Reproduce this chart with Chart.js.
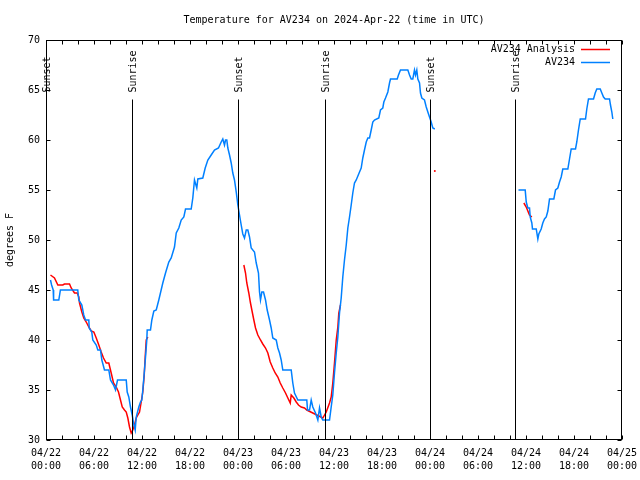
<!DOCTYPE html>
<html>
<head>
<meta charset="utf-8">
<script src="https://cdn.jsdelivr.net/npm/chart.js@4.4.1/dist/chart.umd.min.js"></script>
<style>html,body{margin:0;padding:0;background:#fff;}canvas{display:block;}</style>
</head>
<body>
<canvas id="c" width="640" height="480"></canvas>
<script>
// ---- data (x = hours since 2024-04-22 00:00 UTC) ----
const titleText = "Temperature for AV234 on 2024-Apr-22 (time in UTC)";
const yAxisTitle = "degrees F";
const xTickLabels = [["04/22","00:00"],["04/22","06:00"],["04/22","12:00"],["04/22","18:00"],
  ["04/23","00:00"],["04/23","06:00"],["04/23","12:00"],["04/23","18:00"],
  ["04/24","00:00"],["04/24","06:00"],["04/24","12:00"],["04/24","18:00"],["04/25","00:00"]];
const seriesNames = ["AV234 Analysis", "AV234"];
const sunEventHours = [0.0, 10.8, 24.0, 34.85, 48.0, 58.65];
const sunEventLabels = ["Sunset","Sunrise","Sunset","Sunrise","Sunset","Sunrise"];

const obsHours = [0.56,0.7,0.9,0.95,1.6,1.8,3.97,4.1,4.48,4.72,4.94,5.35,5.4,5.72,5.85,6.28,6.48,6.81,6.98,7.31,7.85,8.06,8.44,8.69,8.94,10.03,10.15,10.35,10.56,10.78,10.94,11.15,11.28,11.6,11.81,11.98,12.1,12.23,12.44,12.6,12.65,13.06,13.23,13.48,13.78,14.1,
  14.6,14.94,15.35,15.65,16.06,16.28,16.6,16.9,17.23,17.44,18.15,18.35,18.56,18.85,18.98,19.6,19.9,20.23,20.65,21.06,21.56,21.9,22.1,22.31,22.44,22.6,22.73,22.94,23.15,23.35,23.56,23.78,23.98,24.19,24.4,24.6,24.81,25.03,25.23,25.44,25.65,26.06,26.28,26.56,26.69,26.81,26.98,27.19,27.44,27.65,27.94,28.15,28.35,28.78,28.98,29.19,29.4,29.6,30.65,30.85,31.06,31.48,32.6,32.69,32.94,33.15,33.35,33.69,33.98,34.19,34.4,34.6,35.44,35.65,35.85,36.06,36.28,36.48,36.69,36.9,37.1,37.31,37.53,37.73,37.94,38.15,38.35,38.56,38.78,39.19,39.4,39.6,39.81,40.03,40.23,40.44,40.65,40.85,41.06,41.6,41.81,42.1,42.23,42.44,42.73,42.94,43.06,43.9,44.06,44.31,45.23,45.44,45.65,45.85,46.06,46.19,46.35,46.48,46.69,46.81,46.98,47.31,47.53,47.73,47.94,48.15,48.35,48.6,
  53.0,
  59.06,59.9,60.03,60.23,60.44,60.53,60.73,60.81,61.28,61.48,61.6,61.9,62.1,62.31,62.53,62.73,62.94,63.48,63.69,63.98,64.19,64.4,64.6,65.23,65.44,65.65,66.19,66.35,66.56,66.78,67.44,67.6,67.81,68.44,68.65,68.85,69.28,69.48,69.69,69.9,70.44,70.56,70.73,70.85];
const obsTemps = [46,45.5,45,44,44,45,45,44,43.5,42.5,42,42,41.2,40.8,40,39.5,39,39,38,37,37,36,35.5,35,36,36,34.8,34.3,33.3,32.5,31.7,31,32.3,33.3,33.8,34,35,36.2,38.3,40,41,41,42,42.9,43,44,
  45.7,46.7,47.8,48.2,49.3,50.7,51.2,52,52.3,53.1,53.1,54.2,56,55.2,56.1,56.2,57.2,58,58.5,59,59.2,59.8,60.1,59.5,60,60,59.2,58.5,57.7,56.7,56,54.8,53.5,52.5,51.5,50.6,50.2,51,51,50.3,49.2,48.8,47.7,46.7,44.8,44,44.8,44.8,44,43,42,41.2,40.2,40,39.2,38.7,38,37,37,35.7,34.7,34,34,33,33,34,33.3,32.7,32,33.2,32.3,32,32,33.3,34.5,36.7,38.7,40.3,42.7,44.2,46.3,48,49.5,51.2,52.3,53.5,54.7,55.7,56,56.8,57.2,58.2,59,59.8,60.2,60.2,61,61.8,62,62.2,63,63.2,63.8,64.2,64.8,65.7,66.1,66.1,66.5,67,67,66.5,66.1,66.1,67,66.5,67,66.1,65.7,64.7,64.2,64,63.3,62.8,62.3,61.8,61.2,61.1,
  null,
  55,55,53.8,53.2,53.2,52.3,51.7,51.1,51.1,50.1,50.6,51.1,51.7,52.1,52.3,52.9,54.1,54.1,55,55.2,55.8,56.3,57.1,57.1,58.1,59.1,59.1,59.8,61,62.1,62.1,63.1,64.1,64.1,64.7,65.1,65.1,64.7,64.3,64.1,64.1,63.5,62.8,62.1];

const anaHours = [0.56,1.06,1.48,2.1,2.31,2.94,3.15,3.56,3.9,4.1,4.19,4.48,4.72,5.03,5.35,5.65,5.98,6.28,6.6,6.9,7.19,7.53,7.85,8.15,8.44,8.78,9.06,9.31,9.53,9.81,10.03,10.23,10.44,10.65,10.85,11.06,11.28,11.48,11.69,11.9,12.1,12.28,12.4,12.53,12.73,
  18.0,
  24.73,24.94,25.1,25.35,25.56,25.78,25.98,26.19,26.48,26.81,27.1,27.44,27.73,28.03,28.35,28.65,28.98,29.28,29.6,29.94,30.23,30.53,30.65,30.98,31.28,31.56,31.9,32.31,32.6,34.6,35.03,35.44,35.65,35.85,36.06,36.28,36.48,36.6,36.81,
  42.0,
  48.6,
  54.0,
  59.73,60.03,60.23,60.44,60.73];
const anaTemps = [46.5,46.2,45.5,45.5,45.6,45.6,45.2,44.7,44.7,44.3,43.7,42.8,42.2,41.8,41.3,40.9,40.8,40.2,39.5,38.8,38.2,37.7,37.7,36.7,35.7,35.3,34.8,34,33.3,33,32.8,32.2,31.3,30.7,31,31.5,32.2,32.5,32.8,33.8,34.8,36.5,38.3,40,40.3,
  null,
  47.5,46.7,45.7,44.7,43.7,42.8,42,41.2,40.5,40,39.6,39.2,38.7,37.8,37.2,36.7,36.3,35.7,35.2,34.7,34.2,33.7,34.5,34.2,33.8,33.5,33.3,33.2,33,32.2,32.8,33.7,34.3,35.7,37.7,40,41.3,42.7,43.5,
  null,
  56.9,
  null,
  53.7,53.3,52.9,52.5,52.3];

const toPoints = (xs, ys) => xs.map((x, i) => ({x: x, y: ys[i]}));
const FONT = "'DejaVu Sans Mono', 'Liberation Mono', monospace";
const RED = '#ff0000', BLUE = '#0080ff';

const framePlugin = {
  id: 'frame',
  afterDatasetsDraw(chart) {
    const ctx = chart.ctx, a = chart.chartArea;
    const xs = chart.scales.x, ys = chart.scales.y;
    const L = Math.round(a.left) + 0.5, R = Math.round(a.right) - 0.5;
    const T = Math.round(a.top) + 0.5, B = Math.round(a.bottom) - 0.5;
    ctx.save();
    ctx.strokeStyle = '#000'; ctx.lineWidth = 1;
    // sun event lines + labels
    ctx.font = '10px ' + FONT; ctx.fillStyle = '#000';
    sunEventHours.forEach((h, i) => {
      const px = Math.round(xs.getPixelForValue(h)) + 0.5;
      ctx.beginPath(); ctx.moveTo(px, T + 59); ctx.lineTo(px, B); ctx.stroke();
      ctx.save(); ctx.translate(px + 1, T + 52); ctx.rotate(-Math.PI / 2);
      ctx.textAlign = 'left'; ctx.textBaseline = 'middle';
      ctx.fillText(sunEventLabels[i], 0, 0); ctx.restore();
    });
    // border
    ctx.strokeRect(L, T, R - L, B - T);
    // inward ticks
    const tl = 4;
    ctx.beginPath();
    xs.ticks.forEach(t => {
      const p = Math.round(xs.getPixelForValue(t.value)) + 0.5;
      ctx.moveTo(p, B); ctx.lineTo(p, B - tl);
      ctx.moveTo(p, T); ctx.lineTo(p, T + tl);
    });
    ys.ticks.forEach(t => {
      const p = Math.round(ys.getPixelForValue(t.value)) + 0.5;
      ctx.moveTo(L, p); ctx.lineTo(L + tl, p);
      ctx.moveTo(R, p); ctx.lineTo(R - tl, p);
    });
    ctx.stroke();
    // legend
    ctx.textAlign = 'right'; ctx.textBaseline = 'middle';
    chart.data.datasets.forEach((ds, i) => {
      const y = Math.round(a.top + 9 + i * 13) + 0.5;
      ctx.fillStyle = '#000';
      ctx.fillText(ds.label, 575, y);
      ctx.strokeStyle = ds.borderColor; ctx.lineWidth = 1.5;
      ctx.beginPath(); ctx.moveTo(581, y); ctx.lineTo(610, y); ctx.stroke();
    });
    ctx.restore();
  }
};

const isolated = (ctx) => {
  const d = ctx.dataset.data, i = ctx.dataIndex;
  if (!d[i] || d[i].y === null) return 0;
  const prev = i > 0 ? d[i-1].y : null, next = i < d.length - 1 ? d[i+1].y : null;
  return (prev === null && next === null) ? 1 : 0;
};

new Chart(document.getElementById('c'), {
  type: 'line',
  data: {
    datasets: [
      { label: seriesNames[0], data: toPoints(anaHours, anaTemps), borderColor: RED, backgroundColor: RED,
        borderWidth: 1.5, pointRadius: isolated, pointBorderWidth: 0, tension: 0, spanGaps: false, order: 1 },
      { label: seriesNames[1], data: toPoints(obsHours, obsTemps), borderColor: BLUE, backgroundColor: BLUE,
        borderWidth: 1.5, pointRadius: 0, tension: 0, spanGaps: false, order: 0 }
    ]
  },
  options: {
    responsive: false, devicePixelRatio: 1, animation: false,
    layout: { padding: { right: 18, left: 0, top: 0, bottom: 0 } },
    plugins: {
      legend: { display: false }, tooltip: { enabled: false },
      title: { display: true, text: titleText, fullSize: false, color: '#000',
        font: { family: FONT, size: 10, weight: 'normal', lineHeight: 1.2 }, padding: { top: 14, bottom: 14 } }
    },
    scales: {
      x: { type: 'linear', min: 0, max: 72,
        grid: { display: false, drawTicks: false }, border: { display: false },
        ticks: { stepSize: 2, autoSkip: false, maxRotation: 0, padding: 7, color: '#000',
          font: { family: FONT, size: 10, lineHeight: 1.3 },
          callback: (v) => (v % 6 === 0 ? xTickLabels[v / 6] : '') },
        afterFit: (s) => { s.height = 40; s.paddingLeft = 0; s.paddingRight = 0; } },
      y: { min: 30, max: 70,
        grid: { display: false, drawTicks: false }, border: { display: false },
        ticks: { stepSize: 5, padding: 6, color: '#000', font: { family: FONT, size: 10 } },
        title: { display: true, text: yAxisTitle, color: '#000', font: { family: FONT, size: 10 }, padding: { top: 4, bottom: 0 } },
        afterFit: (s) => { s.width = 46; s.paddingTop = 0; s.paddingBottom = 0; } }
    }
  },
  plugins: [framePlugin]
});
</script>
</body>
</html>
